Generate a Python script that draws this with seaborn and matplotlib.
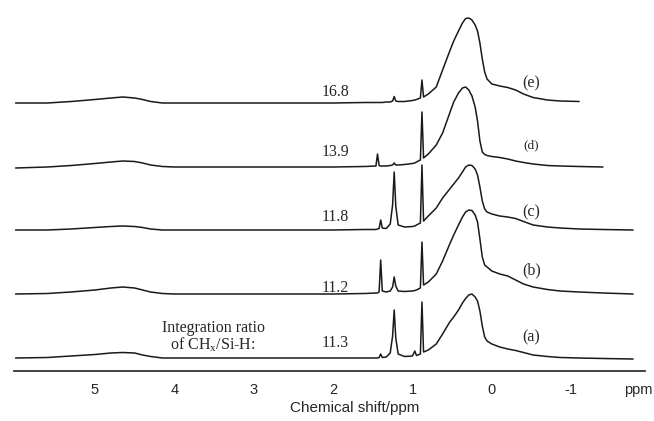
import numpy as np
import pandas as pd
import matplotlib
matplotlib.use("Agg")
import matplotlib.pyplot as plt
import seaborn as sns
from matplotlib.ticker import MultipleLocator

# ---------------------- data ----------------------
# chemical shift grid, ppm
ppm = [6.00, 5.60, 5.30, 5.00, 4.80, 4.65, 4.50, 4.40, 4.30, 4.15, 4.00, 3.00, 2.00, 1.60,
       1.46, 1.44, 1.42, 1.40, 1.38, 1.33, 1.28, 1.25, 1.23, 1.21, 1.18, 1.10, 1.00, 0.97, 0.95,
       0.90, 0.88, 0.86, 0.80, 0.70, 0.62,
       0.53, 0.48, 0.42, 0.37, 0.33, 0.29, 0.25, 0.21, 0.18, 0.15, 0.12, 0.09,
       0.06, 0.00, -0.10, -0.20, -0.30, -0.40, -0.52, -0.70, -0.86, -1.10, -1.40, -1.78]

# intensity above each trace's own baseline
spec_a = [0, 0.5, 2, 3.5, 5, 5.5, 5, 3, 1.5, 0, 0, 0, 0, 0,
          0, 0, 0.5, 4, 0.5, 1, 5, 22, 48, 20, 4, 1.5, 2, 7, 2.5,
          4, 56, 6, 8, 14, 24,
          36, 41, 48, 55, 59.5, 63, 64, 61, 57, 47, 32, 21,
          17, 14, 11, 9, 7.5, 5.5, 3, 1.5, 0.5, 0, -0.5, -1]
spec_b = [0, 0.5, 2, 4, 6, 7, 6, 4, 2, 0.5, 0, 0, 0, 0.5,
          1, 1, 2, 34, 3, 2, 3, 7, 17, 8, 3, 2.5, 3, 3.5, 4,
          6, 52, 9, 12, 20, 33,
          50, 59, 69, 77, 82, 84, 83.5, 79, 72, 55, 37, 29,
          27, 23, 20, 18, 14, 10, 7, 4.5, 3, 2, 1, 0]
spec_c = [0, 0, 1, 2.5, 3.5, 4, 3.5, 2.5, 1, 0, 0, 0, 0, 0.5,
          0.5, 1, 1.5, 10, 2, 1.5, 6, 25, 58, 24, 5, 3, 3.5, 4, 5,
          7, 65, 9, 14, 22, 32,
          41, 46, 52, 58, 63, 65, 64.5, 61, 55, 43, 29, 21,
          18, 16, 14, 13, 11.5, 8.5, 5, 3, 2, 1, 0.5, 0]
spec_d = [-1, 0, 1.5, 3.5, 5, 6, 5.5, 4, 2, 0.5, 0, 0, 0, 0.5,
          1, 13, 1.5, 1, 1, 1, 1.5, 2, 4, 2, 2, 2.5, 3.5, 4, 5,
          7, 55, 9, 13, 22, 34,
          54, 65, 74, 79, 80, 77, 71, 60, 46, 26, 15, 12.5,
          11.5, 10.5, 9.5, 8, 6, 4.5, 3, 1.5, 1, 0.5, 0, np.nan]
spec_e = [0, 0, 1.5, 3.5, 5, 6, 5, 3.5, 1.5, 0, 0, 0, 0, 0.5,
          0.5, 0.5, 0.5, 0.5, 0.5, 1, 1, 2, 6.5, 2, 1.5, 1.5, 2.5, 3, 3.5,
          5, 23, 6, 9, 16, 33,
          52, 62, 72, 80, 84.5, 85, 83, 78, 72, 60, 44, 31,
          24, 19, 17, 15.5, 13, 9, 5.5, 3, 2, 1.5, np.nan, np.nan]

traces = ["(a)", "(b)", "(c)", "(d)", "(e)"]
spectra = [spec_a, spec_b, spec_c, spec_d, spec_e]
ratios = ["11.3", "11.2", "11.8", "13.9", "16.8"]

# ---------------------- layout ----------------------
W, H = 654, 421
x_left, x_right = 14, 645     # pixel extent of the axis
y_axis = 371                  # pixel row of the axis line
offsets = [13, 77, 141, 204, 268]   # baseline of each trace above the axis (px)

sns.set_style("white")
plt.rcParams["font.family"] = ["Liberation Sans", "DejaVu Sans"]

fig = plt.figure(figsize=(W / 100, H / 100), dpi=100)
ax = fig.add_axes([x_left / W, 1 - y_axis / H, (x_right - x_left) / W, y_axis / H])

df = pd.DataFrame({"ppm": ppm})
for name, spec, off in zip(traces, spectra, offsets):
    df[name] = np.array(spec, dtype=float) + off
    sns.lineplot(data=df, x="ppm", y=name, ax=ax, color="#1a1a1a",
                 lw=1.1, sort=False, estimator=None)

ax.set_xlim(6.02, -1.93)
ax.set_ylim(0, y_axis)

# ---------------------- labels ----------------------
serif = ["Liberation Serif", "DejaVu Serif"]
lab_y = [34, 101, 159, 226, 288]
lab_size = [11.5, 11.5, 11.5, 9.5, 11.5]
for name, ly, fs in zip(traces, lab_y, lab_size):
    ax.text(-0.50, ly, name, family=serif, fontsize=fs, ha="center", va="center")

ratio_y = [28, 83, 154, 219, 279]
for r, ry in zip(ratios, ratio_y):
    ax.text(1.97, ry, r, family=serif, fontsize=11.5, ha="center", va="center")

ax.text(3.51, 43, "Integration ratio", family=serif, fontsize=11.5,
        ha="center", va="center")
ax.text(3.51, 26, "of CH$_\\mathregular{x}$/Si-H:", family=serif, fontsize=11.5,
        ha="center", va="center")

# ---------------------- axis ----------------------
for s in ["left", "top", "right"]:
    ax.spines[s].set_visible(False)
ax.spines["bottom"].set_linewidth(1.3)
ax.spines["bottom"].set_color("#333333")
ax.set_yticks([])
ax.set_xticks([5, 4, 3, 2, 1, 0, -1])
ax.set_xticklabels(["5", "4", "3", "2", "1", "0", "-1"])
ax.xaxis.set_minor_locator(MultipleLocator(0.2))
ax.tick_params(axis="x", which="major", direction="out", length=5, width=1,
               labelsize=10.5, pad=4, color="#333333")
ax.tick_params(axis="x", which="minor", direction="out", length=3, width=0.8,
               color="#555555")
ax.text(-1.84, -19, "ppm", fontsize=10.5, ha="center", va="center")
ax.set_xlabel("Chemical shift/ppm", fontsize=11)
ax.xaxis.set_label_coords((355 - x_left) / (x_right - x_left), -37 / y_axis)
ax.xaxis.label.set_va("center")
ax.set_ylabel("")

fig.savefig("out.png", dpi=100)
